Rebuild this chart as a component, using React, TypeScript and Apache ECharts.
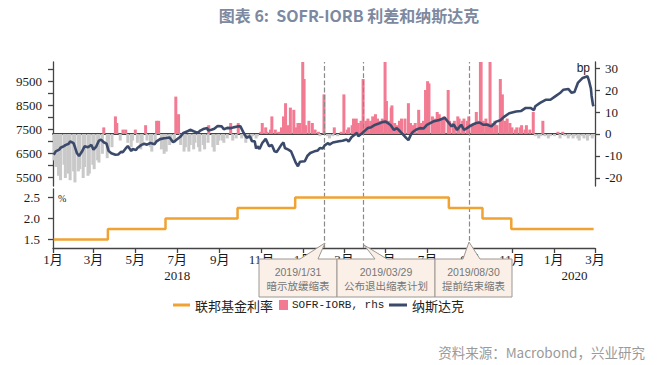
import { useEffect, useRef } from "react";
import * as echarts from "echarts";

// ---------- data ----------
const nasdaqDates = [
  "2018-01-02","2018-01-05","2018-01-10","2018-01-12","2018-01-17","2018-01-19","2018-01-24","2018-01-26","2018-01-31",
  "2018-02-02","2018-02-05","2018-02-08","2018-02-12","2018-02-16","2018-02-21","2018-02-26","2018-03-01","2018-03-05",
  "2018-03-09","2018-03-12","2018-03-16","2018-03-20","2018-03-23","2018-03-27","2018-04-02","2018-04-06","2018-04-10",
  "2018-04-13","2018-04-18","2018-04-20","2018-04-25","2018-04-27","2018-05-02","2018-05-04","2018-05-10","2018-05-14",
  "2018-05-18","2018-05-23","2018-05-29","2018-06-01","2018-06-06","2018-06-12","2018-06-15","2018-06-20","2018-06-25",
  "2018-06-29","2018-07-06","2018-07-10","2018-07-17","2018-07-20","2018-07-25","2018-07-31","2018-08-03","2018-08-08",
  "2018-08-14","2018-08-15","2018-08-20","2018-08-24","2018-08-29","2018-09-04","2018-09-07","2018-09-12","2018-09-18",
  "2018-09-21","2018-09-27","2018-10-01","2018-10-05","2018-10-10","2018-10-15","2018-10-18","2018-10-22","2018-10-24",
  "2018-10-26","2018-10-29","2018-11-02","2018-11-07","2018-11-12","2018-11-16","2018-11-20","2018-11-23","2018-11-30",
  "2018-12-03","2018-12-05","2018-12-10","2018-12-14","2018-12-18","2018-12-21","2018-12-24","2018-12-27","2019-01-03",
  "2019-01-07","2019-01-11","2019-01-17","2019-01-22","2019-01-25","2019-01-29","2019-02-01","2019-02-06","2019-02-08",
  "2019-02-13","2019-02-22","2019-02-27","2019-03-05","2019-03-08","2019-03-12","2019-03-20","2019-03-22","2019-03-28",
  "2019-04-05","2019-04-10","2019-04-15","2019-04-22","2019-04-26","2019-05-01","2019-05-08","2019-05-13","2019-05-17",
  "2019-05-20","2019-05-24","2019-05-31","2019-06-03","2019-06-07","2019-06-10","2019-06-14","2019-06-20","2019-06-25",
  "2019-06-30","2019-07-09","2019-07-18","2019-07-26","2019-07-31","2019-08-05","2019-08-08","2019-08-13","2019-08-15",
  "2019-08-19","2019-08-23","2019-08-28","2019-08-31","2019-09-05","2019-09-10","2019-09-15","2019-09-20","2019-09-25",
  "2019-10-02","2019-10-09","2019-10-15","2019-10-21","2019-10-28","2019-11-07","2019-11-14","2019-11-21","2019-11-28",
  "2019-12-03","2019-12-05","2019-12-12","2019-12-20","2019-12-27","2020-01-03","2020-01-10","2020-01-15","2020-01-22",
  "2020-01-27","2020-01-31","2020-02-05","2020-02-12","2020-02-19","2020-02-21","2020-02-24","2020-02-25","2020-02-27",
  "2020-02-28"
];
const nasdaqValues = [
  6440,6580,6650,6730,6800,6840,6900,7000,6920,
  6760,6500,6390,6560,6790,6750,6850,6650,6780,
  7030,7070,6960,6900,6600,6500,6440,6450,6560,
  6550,6740,6800,6600,6680,6640,6720,6850,6900,
  6860,6930,6880,7000,7090,7130,7140,7160,6960,
  7040,7200,7350,7430,7480,7420,7350,7430,7510,
  7550,7450,7480,7520,7640,7620,7500,7560,7550,
  7580,7620,7630,7400,7150,7210,7000,7000,6700,
  6790,6680,6930,7100,6790,6850,6580,6550,6860,
  6950,6720,6650,6580,6300,6100,5960,6150,6170,
  6400,6510,6580,6620,6720,6700,6830,6930,6860,
  6950,7000,7020,7070,6990,7170,7350,7210,7350,
  7550,7590,7680,7750,7800,7820,7680,7470,7550,
  7470,7350,7130,7050,7300,7400,7480,7550,7530,
  7680,7820,7890,7980,7800,7620,7700,7470,7550,
  7690,7480,7560,7620,7700,7760,7780,7690,7700,
  7620,7820,7880,8030,8170,8240,8260,8390,8390,
  8300,8460,8600,8730,8730,8870,9010,9150,9180,
  9020,9050,9430,9640,9710,9550,9200,8900,8520,
  8460
];

const sofrDates = [
  "2018-01-03","2018-01-05","2018-01-09","2018-01-12","2018-01-17","2018-01-19","2018-01-23","2018-01-26","2018-01-31",
  "2018-02-02","2018-02-07","2018-02-09","2018-02-14","2018-02-16","2018-02-21","2018-02-23","2018-02-28","2018-03-02",
  "2018-03-07","2018-03-09","2018-03-14","2018-03-16","2018-03-21","2018-03-23","2018-03-28","2018-04-02","2018-04-04",
  "2018-04-09","2018-04-13","2018-04-17","2018-04-20","2018-04-25","2018-04-27","2018-05-01","2018-05-04","2018-05-09",
  "2018-05-11","2018-05-16","2018-05-18","2018-05-23","2018-05-25","2018-05-30","2018-06-01","2018-06-04","2018-06-08",
  "2018-06-12","2018-06-15","2018-06-20","2018-06-22","2018-06-27","2018-06-29","2018-07-03","2018-07-06","2018-07-11",
  "2018-07-13","2018-07-18","2018-07-20","2018-07-25","2018-07-27","2018-08-01","2018-08-03","2018-08-08","2018-08-10",
  "2018-08-15","2018-08-16","2018-08-22","2018-08-24","2018-08-29","2018-08-31","2018-09-05","2018-09-07","2018-09-12",
  "2018-09-17","2018-09-20","2018-09-25","2018-09-28","2018-10-03","2018-10-05","2018-10-09","2018-10-12","2018-10-17",
  "2018-10-19","2018-10-24","2018-10-26","2018-10-31","2018-11-02","2018-11-07","2018-11-09","2018-11-14","2018-11-16",
  "2018-11-21","2018-11-26","2018-11-30","2018-12-03","2018-12-06","2018-12-10","2018-12-13","2018-12-18","2018-12-21",
  "2018-12-24","2018-12-27","2018-12-31","2019-01-02","2019-01-04","2019-01-09","2019-01-14","2019-01-18","2019-01-23",
  "2019-01-25","2019-01-31","2019-02-05","2019-02-08","2019-02-13","2019-02-15","2019-02-20","2019-02-25","2019-03-01",
  "2019-03-06","2019-03-08","2019-03-13","2019-03-15","2019-03-19","2019-03-22","2019-03-26","2019-03-29","2019-04-02",
  "2019-04-05","2019-04-09","2019-04-12","2019-04-16","2019-04-19","2019-04-23","2019-04-26","2019-04-30","2019-05-02",
  "2019-05-06","2019-05-09","2019-05-10","2019-05-14","2019-05-17","2019-05-21","2019-05-24","2019-05-29","2019-06-03",
  "2019-06-06","2019-06-10","2019-06-13","2019-06-18","2019-06-21","2019-06-25","2019-06-28","2019-07-01","2019-07-03",
  "2019-07-08","2019-07-11","2019-07-15","2019-07-18","2019-07-22","2019-07-25","2019-07-31","2019-08-02","2019-08-07",
  "2019-08-09","2019-08-14","2019-08-16","2019-08-21","2019-08-23","2019-08-28","2019-08-30","2019-09-04","2019-09-06",
  "2019-09-10","2019-09-13","2019-09-16","2019-09-17","2019-09-20","2019-09-24","2019-09-27","2019-09-30","2019-10-03",
  "2019-10-07","2019-10-10","2019-10-15","2019-10-18","2019-10-22","2019-10-25","2019-10-29","2019-11-01","2019-11-06",
  "2019-11-08","2019-11-13","2019-11-15","2019-11-20","2019-11-22","2019-11-27","2019-12-02","2019-12-05","2019-12-10",
  "2019-12-13","2019-12-16","2019-12-19","2019-12-24","2019-12-27","2020-01-02","2020-01-07","2020-01-10","2020-01-14",
  "2020-01-17","2020-01-22","2020-01-24","2020-01-29","2020-01-31","2020-02-05","2020-02-07","2020-02-12","2020-02-14",
  "2020-02-19","2020-02-21","2020-02-26","2020-02-28"
];
const sofrValues = [
  -12,-15,-19,-21,-14,-20,-18,-21,-17,
  -22,-17,-16,-20,-15,-19,-18,-14,-16,
  -12,-13,-9,3,-11,-8,-6,8,5,
  -3,2,2,-4,-6,-3,2,-4,-7,
  -5,4,-3,-6,-8,-4,6,6,-7,
  -9,-8,-5,-3,-4,17,9,-5,-8,
  -6,-8,-5,-7,-4,-6,-8,-5,-7,
  -4,4,-6,-8,-5,-3,-3,-4,-2,
  5,-3,-2,5,-2,-1,-4,-2,-3,
  -1,-2,-1,1,5,3,1,2,8,
  2,1,3,8,14,4,12,11,3,
  5,5,60,25,4,6,5,2,1,
  -1,18,-1,-2,-1,3,-1,1,18,
  2,3,4,7,7,5,6,25,6,
  7,6,8,9,7,6,7,40,15,
  6,12,13,5,4,6,7,7,14,
  5,4,5,11,5,6,20,24,23,
  8,7,10,9,7,8,20,6,5,
  6,8,7,6,7,6,8,4,4,
  10,6,80,300,6,7,5,55,5,
  6,4,25,18,6,7,5,3,2,
  3,3,4,2,4,2,10,-1,-2,
  -1,6,-1,-2,-1,-1,1,-2,1,
  -1,-2,-1,-2,-1,-2,-3,-1,-2,
  -3,-1,-2,-1
];

const fedDates = ["2018-01-02","2018-03-22","2018-06-14","2018-09-27","2018-12-20","2019-08-01","2019-09-19","2019-10-31","2020-02-28"];
const fedValues = [1.5,1.75,2.0,2.25,2.5,2.25,2.0,1.75,1.75];

const monthTickDates = [
  "2018-01-01","2018-03-01","2018-05-01","2018-07-01","2018-09-01","2018-11-01","2019-01-01",
  "2019-03-01","2019-05-01","2019-07-01","2019-09-01","2019-11-01","2020-01-01","2020-03-01"
];
const yearLabelDates = ["2018-07-01","2020-01-31"];
const eventDates = ["2019-01-31","2019-03-29","2019-08-30"];
const eventTitles = ["2019/1/31","2019/03/29","2019/08/30"];
const eventNotes = ["暗示放缓缩表","公布退出缩表计划","提前结束缩表"];

const nasdaqTicks = [5500,6000,6500,7000,7500,8000,8500,9000,9500,10000];
const nasdaqLabels = [5500,6500,7500,8500,9500];
const spreadTicks = [-20,-10,0,10,20,30];
const fedTicks = [1.5,2.0,2.5];

const axisStart = "2018-01-01";
const axisEnd = "2020-03-01";

// ---------- style constants ----------
const SERIF = "'Liberation Serif','DejaVu Serif','Noto Sans CJK SC',serif";
const CJK = "'Noto Sans CJK SC','Noto Sans',sans-serif";
const MONO = "'Liberation Mono','DejaVu Sans Mono','Noto Sans CJK SC',monospace";
const ORANGE = "#f0a232";
const NAVY = "#3b4a6b";
const PINK = "#f27a92";
const GRAY = "#c9c9c9";

// annotation box geometry (layout only)
const boxes = [
  { x0: 259, x1: 337, b0: 300, b1: 318, tip: [325, 243] },
  { x0: 337, x1: 435, b0: 375, b1: 387, tip: [364, 245] },
  { x0: 435, x1: 512, b0: 463, b1: 480, tip: [469, 242] },
];

export default function App() {
  const ref = useRef<HTMLDivElement>(null);
  useEffect(() => {
    if (!ref.current) return;
    const chart = echarts.init(ref.current, undefined, { renderer: "svg" });
    const ts = (d: string) => Date.parse(d);
    const T0 = ts(axisStart);
    const T1 = ts(axisEnd);
    const nasdaq = nasdaqDates.map((d, i) => [ts(d), nasdaqValues[i]]);
    const sofr = sofrDates.map((d, i) => [ts(d), sofrValues[i]]);
    const fed = fedDates.map((d, i) => [ts(d), fedValues[i]]);
    const monthTs = monthTickDates.map(ts);
    const yearTs = yearLabelDates.map(ts);
    const markLine = {
      silent: true,
      symbol: ["none", "none"],
      label: { show: false },
      lineStyle: { type: "dashed", color: "#8a8a8a", width: 1.2 },
      data: eventDates.map((d) => ({ xAxis: ts(d) })),
    };
    const axisLineStyle = { color: "#444", width: 1.3 };
    const labelStyle = { fontFamily: SERIF, fontSize: 13, color: "#1a1a1a" };
    const mid = { verticalAlign: "middle", textVerticalAlign: "middle" };

    const graphics: any[] = [
      {
        type: "text", x: 349, y: 15, z: 100,
        style: { text: "图表 6:  SOFR-IORB 利差和纳斯达克", font: `bold 16px ${CJK}`, fill: "#7d89a0", align: "center", textAlign: "center", ...mid },
      },
      {
        type: "text", x: 58, y: 198, z: 100,
        style: { text: "%", font: `10px ${SERIF}`, fill: "#222", align: "left", textAlign: "left", ...mid },
      },
      {
        type: "text", x: 590, y: 68, z: 100,
        style: { text: "bp", font: `12px 'Liberation Sans',sans-serif`, fill: "#222", align: "right", textAlign: "right", ...mid },
      },
      // legend
      { type: "rect", z: 100, shape: { x: 173, y: 303.5, width: 17, height: 3 }, style: { fill: ORANGE } },
      {
        type: "text", x: 195, y: 305, z: 100,
        style: { text: "联邦基金利率", font: `13px ${CJK}`, fill: "#222", align: "left", textAlign: "left", ...mid },
      },
      { type: "rect", z: 100, shape: { x: 279, y: 300, width: 9, height: 10 }, style: { fill: PINK } },
      {
        type: "text", x: 292, y: 305, z: 100,
        style: { text: "SOFR-IORB, rhs", font: `11px ${MONO}`, fill: "#222", align: "left", textAlign: "left", ...mid },
      },
      { type: "rect", z: 100, shape: { x: 389, y: 303.5, width: 18, height: 3 }, style: { fill: NAVY } },
      {
        type: "text", x: 412, y: 305, z: 100,
        style: { text: "纳斯达克", font: `13px ${CJK}`, fill: "#222", align: "left", textAlign: "left", ...mid },
      },
      // source
      {
        type: "text", x: 645, y: 352, z: 100,
        style: { text: "资料来源：Macrobond，兴业研究", font: `13.5px ${CJK}`, fill: "#9a9a9a", align: "right", textAlign: "right", ...mid },
      },
    ];
    boxes.forEach((b, i) => {
      const top = 259, bottom = 297;
      graphics.push({
        type: "polygon", z: 100,
        shape: { points: [[b.x0, top], [b.b0, top], b.tip, [b.b1, top], [b.x1, top], [b.x1, bottom], [b.x0, bottom]] },
        style: { fill: "#faf0e7", stroke: "#9c9793", lineWidth: 1 },
      });
      const cx = (b.x0 + b.x1) / 2;
      graphics.push({
        type: "text", x: cx, y: 272, z: 101,
        style: { text: eventTitles[i], font: `10.5px 'Liberation Sans',sans-serif`, fill: "#777", align: "center", textAlign: "center", ...mid },
      });
      graphics.push({
        type: "text", x: cx, y: 285, z: 101,
        style: { text: eventNotes[i], font: `10.5px ${CJK}`, fill: "#777", align: "center", textAlign: "center", ...mid },
      });
    });

    chart.setOption({
      animation: false,
      backgroundColor: "#ffffff",
      textStyle: { fontFamily: SERIF },
      grid: [
        { left: 53, top: 62, width: 542, height: 124, outerBoundsMode: "none", containLabel: false },
        { left: 53, top: 189, width: 542, height: 59, outerBoundsMode: "none", containLabel: false },
      ],
      xAxis: [
        {
          gridIndex: 0, type: "value", min: T0, max: T1,
          axisLine: { show: true, lineStyle: { color: "#444", width: 1.8 } },
          axisTick: { show: false }, axisLabel: { show: false }, splitLine: { show: false },
        },
        {
          gridIndex: 1, type: "value", min: T0, max: T1, position: "bottom",
          axisLine: { show: true, lineStyle: axisLineStyle },
          axisTick: { show: true, customValues: monthTs, length: 5, lineStyle: axisLineStyle },
          axisLabel: {
            ...labelStyle, customValues: monthTs, margin: 5, showMinLabel: true, showMaxLabel: true,
            formatter: (v: number) => `${new Date(v).getUTCMonth() + 1}月`,
          },
          splitLine: { show: false },
        },
        {
          gridIndex: 1, type: "value", min: T0, max: T1, position: "bottom",
          axisLine: { show: false }, axisTick: { show: false },
          axisLabel: {
            ...labelStyle, customValues: yearTs, margin: 21, showMinLabel: true, showMaxLabel: true,
            formatter: (v: number) => `${new Date(v).getUTCFullYear()}`,
          },
          splitLine: { show: false },
        },
      ],
      yAxis: [
        {
          gridIndex: 0, type: "value", position: "left", min: 5137, max: 10304,
          axisLine: { show: true, lineStyle: axisLineStyle },
          axisTick: { show: true, customValues: nasdaqTicks, length: 5, lineStyle: axisLineStyle },
          axisLabel: { ...labelStyle, customValues: nasdaqLabels, margin: 11, formatter: (v: number) => String(v) },
          splitLine: { show: false },
        },
        {
          gridIndex: 0, type: "value", position: "right", min: -23.64, max: 32.73,
          axisLine: { show: true, lineStyle: axisLineStyle },
          axisTick: { show: true, customValues: spreadTicks, length: 5, lineStyle: axisLineStyle },
          axisLabel: { ...labelStyle, customValues: spreadTicks, margin: 10, formatter: (v: number) => String(v) },
          splitLine: { show: false },
        },
        {
          gridIndex: 1, type: "value", position: "left", min: 1.3, max: 2.7,
          axisLine: { show: true, lineStyle: axisLineStyle },
          axisTick: { show: true, customValues: fedTicks, length: 5, lineStyle: axisLineStyle },
          axisLabel: { ...labelStyle, customValues: fedTicks, margin: 13, formatter: (v: number) => v.toFixed(1) },
          splitLine: { show: false },
        },
      ],
      series: [
        {
          name: "SOFR-IORB, rhs", type: "bar", xAxisIndex: 0, yAxisIndex: 1, data: sofr,
          barWidth: 3, z: 2,
          itemStyle: { color: (p: any) => (p.value[1] >= 0 ? PINK : GRAY) },
        },
        {
          name: "纳斯达克", type: "line", xAxisIndex: 0, yAxisIndex: 0, data: nasdaq,
          showSymbol: false, symbol: "none", z: 5,
          lineStyle: { color: NAVY, width: 2.6 },
          markLine,
        },
        {
          name: "联邦基金利率", type: "line", xAxisIndex: 1, yAxisIndex: 2, data: fed, step: "end",
          showSymbol: false, symbol: "none", z: 5,
          lineStyle: { color: ORANGE, width: 2.5 },
          markLine,
        },
      ],
      graphic: graphics,
    });
    return () => chart.dispose();
  }, []);
  return (
    <div
      ref={ref}
      style={{ position: "fixed", left: 0, top: 0, width: 668, height: 365, background: "#fff" }}
    />
  );
}
